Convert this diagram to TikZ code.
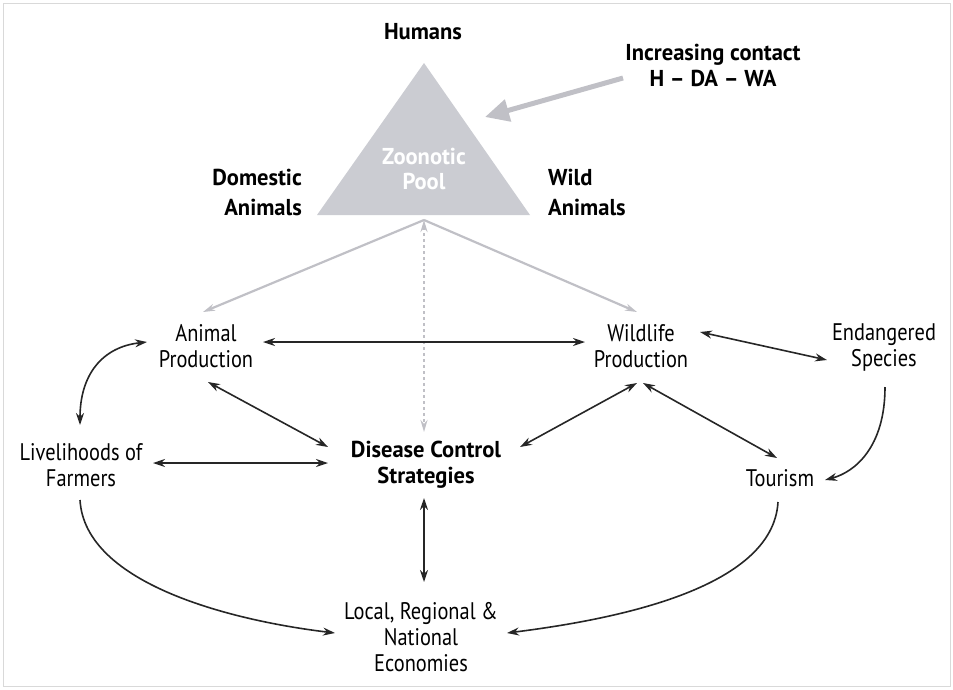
\documentclass[tikz,border=0pt]{standalone}
\usepackage{fontspec}
\setmainfont{PT Sans}[FakeStretch=0.85, BoldFeatures={FakeStretch=0.98}]
\usetikzlibrary{arrows.meta}
\definecolor{poolgray}{RGB}{203,204,210}
\definecolor{palegray}{RGB}{192,192,198}

\begin{document}
\begin{tikzpicture}[x=1pt, y=-1pt, >={Stealth[length=12pt, width=8pt]}]
        \tikzset{
            frame/.style={draw=gray!30, line width=0.8pt},
            item/.style={align=center, inner sep=0pt, font=\fontsize{24}{26}\selectfont},
            heading/.style={align=center, inner sep=0pt, font=\fontsize{23}{26}\selectfont\bfseries},
            animals/.style={inner sep=0pt, font=\fontsize{23}{30}\selectfont\bfseries},
            link/.style={<->, draw=black!85, line width=1.6pt},
            oneway/.style={->, draw=black!85, line width=1.6pt},
            paleway/.style={-{Stealth[length=12pt, width=7pt]}, draw=palegray, line width=2.2pt},
            palelink/.style={{Stealth[length=12pt, width=7pt]}-{Stealth[length=12pt, width=7pt]}, draw=palegray, line width=2pt, dashed},
            contact/.style={-{Triangle[length=24pt, width=22pt]}, draw=palegray, line width=5pt}
        }

        \useasboundingbox (0,0) rectangle (953,689);
        \draw[frame] (3,3) rectangle (950,686);

        % zoonotic pool
        \coordinate (apex) at (424,63);
        \coordinate (baseleft) at (317,215);
        \coordinate (baseright) at (530,215);
        \coordinate (poolbot) at (424,220);
        \coordinate (contacttip) at (485,117);
        \fill[poolgray] (apex) -- (baseleft) -- (baseright) -- cycle;
        \node[inner sep=0pt, align=center, text=white, font=\fontsize{23}{25}\selectfont\bfseries] (pool) at (424,169) {Zoonotic\\Pool};

        \node[heading] (hum) at (423,32) {Humans};
        \node[heading] (inc) at (713,65) {Increasing contact\\H -- DA -- WA};
        \node[animals, align=right, anchor=east] (dom) at (302,192) {Domestic\\Animals};
        \node[animals, align=left, anchor=west] (wild) at (548,192) {Wild\\Animals};

        % outcomes
        \node[item] (anim) at (206,346) {Animal\\Production};
        \node[item] (wlp) at (641,346) {Wildlife\\Production};
        \node[item] (endg) at (884,347) {Endangered\\Species};
        \node[item] (liv) at (81,465) {Livelihoods of\\Farmers};
        \node[item, font=\fontsize{23}{26}\selectfont\bfseries] (dcs) at (426,465) {Disease Control\\Strategies};
        \node[item] (tour) at (780,478) {Tourism};
        \node[item] (econ) at (421,637) {Local, Regional \&\\National\\Economies};

        \draw[contact] ([shift={(-90,13)}]inc.center) -- (contacttip);
        \draw[paleway] (poolbot) -- ([shift={(-3,-34)}]anim.center);
        \draw[paleway] (poolbot) -- ([shift={(-4,-34)}]wlp.center);
        \draw[palelink] (poolbot) -- ([shift={(-2,-33)}]dcs.center);

        \draw[link] ([shift={(57,-4)}]anim.center) -- ([shift={(-56,-4)}]wlp.center);
        \draw[link] ([shift={(2,36)}]anim.center) -- ([shift={(-98,-18)}]dcs.center);
        \draw[link] ([shift={(-1,-40)}]liv.center) .. controls +(0,-50) and +(-45,5) .. ([shift={(-59,-4)}]anim.center);
        \draw[link] ([shift={(-4,37)}]wlp.center) -- ([shift={(94,-18)}]dcs.center);
        \draw[link] ([shift={(2,37)}]wlp.center) -- ([shift={(-3,-20)}]tour.center);
        \draw[link] ([shift={(59,-14)}]wlp.center) -- ([shift={(-57,13)}]endg.center);
        \draw[oneway] ([shift={(1,40)}]endg.center) .. controls +(0,60) and +(30,-8) .. ([shift={(45,2)}]tour.center);
        \draw[link] ([shift={(72,-2)}]liv.center) -- ([shift={(-98,-2)}]dcs.center);
        \draw[link] ([shift={(-2,33)}]dcs.center) -- ([shift={(3,-55)}]econ.center);
        \draw[oneway] ([shift={(-1,35)}]liv.center) .. controls +(5,85) and +(-100,-12) .. ([shift={(-86,-4)}]econ.center);
        \draw[oneway] ([shift={(-2,24)}]tour.center) .. controls +(-5,88) and +(103,-13) .. ([shift={(86,-4)}]econ.center);
\end{tikzpicture}
\end{document}
